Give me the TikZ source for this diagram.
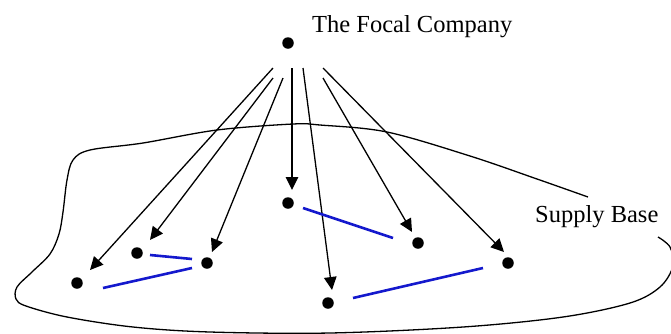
\documentclass[tikz,border=0pt]{standalone}
\usepackage{fontspec}
\setmainfont{Liberation Serif}
\usetikzlibrary{arrows.meta}
\definecolor{linkblue}{RGB}{20,25,205}
\tikzset{
  dot/.style={circle,fill=black,inner sep=0pt,minimum size=11.5pt},
  arr/.style={line width=1.3pt,-{Triangle[length=13pt,width=12.5pt]}},
  link/.style={line width=2.6pt,linkblue},
  outline/.style={line width=1.3pt},
  lbl/.style={font=\fontsize{24.5}{28}\selectfont,inner sep=0pt}
}
\begin{document}
\begin{tikzpicture}[x=1pt,y=-1pt]
\useasboundingbox (0,0) rectangle (671,333);
% labels
\node[lbl,anchor=base west] (focallbl) at (312,32) {The Focal Company};
\node[lbl,anchor=base west] (baselbl) at (535,222) {Supply Base};
% supply base outline
\draw[outline] plot[smooth,tension=0.55] coordinates {
 (588,197) (537,179) (470,156) (387,132) (320,125) (293,124) (217,130)
 (143,143) (90,150) (73,160) (67,180) (63,212) (59,234) (50,254)
 (32,272) (17,287) (16,299) (26,306) (67,317) (133,327) (210,332)
 (330,333) (463,327) (563,317) (630,303) (660,287) (673,266) (670,247) (658,237)};
% dots
\node[dot] (focal) at (288,43) {};
\node[dot] (s1) at (77,283) {};
\node[dot] (s2) at (137,253) {};
\node[dot] (s3) at (207,263) {};
\node[dot] (s4) at (288,203) {};
\node[dot] (s5) at (328,303) {};
\node[dot] (s6) at (418,243) {};
\node[dot] (s7) at (508,263) {};
% arrow starts and tips
\coordinate (a1) at (273,68);  \coordinate (t1) at (90,270);
\coordinate (a2) at (273,78);  \coordinate (t2) at (150,240);
\coordinate (a3) at (283,78);  \coordinate (t3) at (212,252);
\coordinate (a4) at (292,68);  \coordinate (t4) at (292,190);
\coordinate (a5) at (303,68);  \coordinate (t5) at (332,290);
\coordinate (a6) at (323,78);  \coordinate (t6) at (412,232);
\coordinate (a7) at (323,68);  \coordinate (t7) at (504,252);
\foreach \i in {1,...,7} { \draw[arr] (a\i) -- (t\i); }
% blue links
\coordinate (b1a) at (150,255); \coordinate (b1b) at (192,259);
\coordinate (b2a) at (103,288); \coordinate (b2b) at (192,268);
\coordinate (b3a) at (303,208); \coordinate (b3b) at (393,238);
\coordinate (b4a) at (353,298); \coordinate (b4b) at (483,268);
\draw[link] (b1a) -- (b1b);
\draw[link] (b2a) -- (b2b);
\draw[link] (b3a) -- (b3b);
\draw[link] (b4a) -- (b4b);
\end{tikzpicture}
\end{document}
